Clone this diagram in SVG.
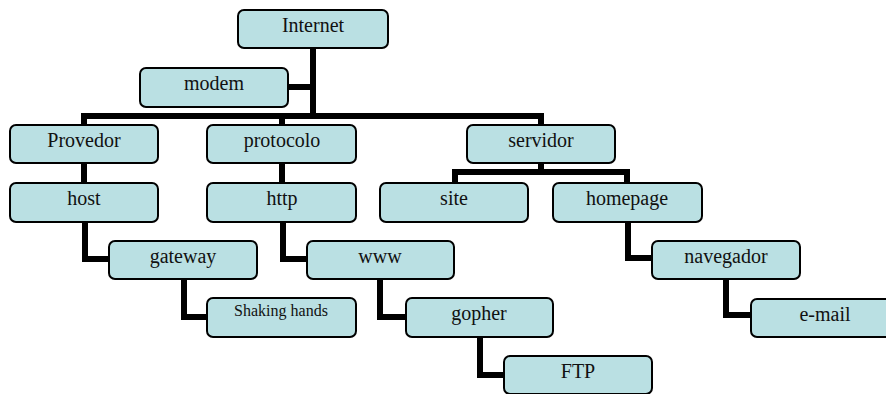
<svg xmlns="http://www.w3.org/2000/svg" width="886" height="394" viewBox="0 0 886 394">
<style>
.box{fill:#bae0e3;stroke:#000;stroke-width:2}
.t{font-family:"Liberation Serif","Times New Roman",serif;font-size:20px;fill:#111;text-anchor:middle}
.s{font-size:16px}
.c{fill:none;stroke:#000;stroke-width:6;stroke-linejoin:miter;stroke-linecap:butt}
</style>
<rect width="886" height="394" fill="#fff"/>
<g id="connectors">
<path class="c" d="M313 48V119"/>
<path class="c" d="M288 87H313"/>
<path class="c" d="M84 125V116H544"/>
<path class="c" d="M282 116V125"/>
<path class="c" d="M541 116V125"/>
<path class="c" d="M84 163V183"/>
<path class="c" d="M282 163V183"/>
<path class="c" d="M541 163V172"/>
<path class="c" d="M455 183V172H627V183"/>
<path class="c" d="M85 222V259H109"/>
<path class="c" d="M283 222V259H307"/>
<path class="c" d="M628 222V258H652"/>
<path class="c" d="M184 279V317H207"/>
<path class="c" d="M380 279V317H406"/>
<path class="c" d="M726 279V315H751"/>
<path class="c" d="M480 337V375H504"/>
</g>
<g id="internet"><rect class="box" x="238" y="10" width="150" height="38" rx="6"/><text class="t" x="313" y="32">Internet</text></g>
<g id="modem"><rect class="box" x="140" y="68" width="148" height="39" rx="6"/><text class="t" x="214" y="90">modem</text></g>
<g id="provedor"><rect class="box" x="10" y="125" width="148" height="38" rx="6"/><text class="t" x="84" y="147">Provedor</text></g>
<g id="protocolo"><rect class="box" x="207" y="125" width="149" height="38" rx="6"/><text class="t" x="282" y="147">protocolo</text></g>
<g id="servidor"><rect class="box" x="467" y="125" width="148" height="38" rx="6"/><text class="t" x="541" y="147">servidor</text></g>
<g id="host"><rect class="box" x="10" y="183" width="148" height="39" rx="6"/><text class="t" x="84" y="205">host</text></g>
<g id="http"><rect class="box" x="207" y="183" width="149" height="39" rx="6"/><text class="t" x="282" y="205">http</text></g>
<g id="site"><rect class="box" x="380" y="183" width="148" height="39" rx="6"/><text class="t" x="454" y="205">site</text></g>
<g id="homepage"><rect class="box" x="553" y="183" width="149" height="39" rx="6"/><text class="t" x="627" y="205">homepage</text></g>
<g id="gateway"><rect class="box" x="109" y="241" width="148" height="38" rx="6"/><text class="t" x="183" y="263">gateway</text></g>
<g id="www"><rect class="box" x="307" y="241" width="147" height="38" rx="6"/><text class="t" x="380" y="263">www</text></g>
<g id="navegador"><rect class="box" x="652" y="241" width="148" height="38" rx="6"/><text class="t" x="726" y="263">navegador</text></g>
<g id="shaking-hands"><rect class="box" x="207" y="298" width="149" height="39" rx="6"/><text class="t s" x="281" y="316">Shaking hands</text></g>
<g id="gopher"><rect class="box" x="406" y="298" width="147" height="39" rx="6"/><text class="t" x="479" y="320">gopher</text></g>
<g id="e-mail"><rect class="box" x="751" y="299" width="148" height="38" rx="6"/><text class="t" x="825" y="321">e-mail</text></g>
<g id="ftp"><rect class="box" x="504" y="356" width="148" height="38" rx="6"/><text class="t" x="578" y="378">FTP</text></g>
</svg>
